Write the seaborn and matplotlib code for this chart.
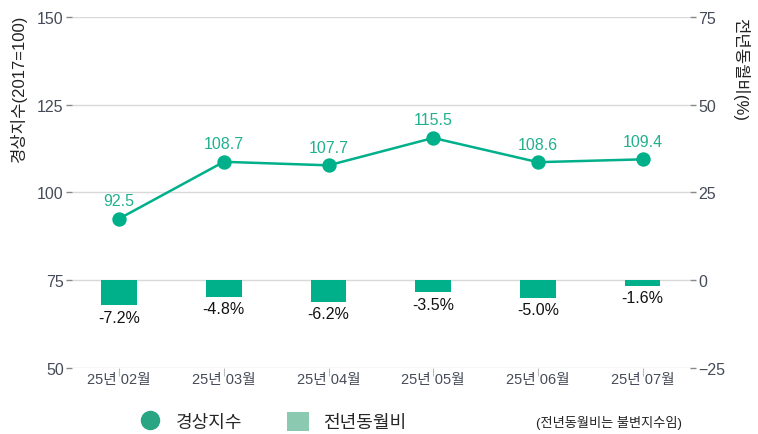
import matplotlib
matplotlib.use("Agg")
import matplotlib.pyplot as plt
import seaborn as sns
import pandas as pd
from matplotlib.lines import Line2D
from matplotlib.patches import Patch

# data
months = ["25년 02월", "25년 03월", "25년 04월", "25년 05월", "25년 06월", "25년 07월"]
index_vals = [92.5, 108.7, 107.7, 115.5, 108.6, 109.4]
yoy_vals = [-7.2, -4.8, -6.2, -3.5, -5.0, -1.6]

left_ticks = [50, 75, 100, 125, 150]
right_ticks = [-25, 0, 25, 50, 75]

GREEN = "#00B08B"
TICK_COLOR = "#454b58"
FONTS = ["Liberation Sans", "Noto Sans CJK KR", "DejaVu Sans"]

sns.set_theme(style="white")
plt.rcParams["font.family"] = FONTS

df = pd.DataFrame({"month": months, "index": index_vals, "yoy": yoy_vals})

fig = plt.figure(figsize=(7.58, 4.35), dpi=100)
ax = fig.add_axes([0.095, 0.152, 0.815, 0.807])
ax2 = ax.twinx()

# bars on the right axis
sns.barplot(data=df, x="month", y="yoy", ax=ax2, color=GREEN, width=0.34,
            saturation=1, edgecolor="none")
for i, v in enumerate(yoy_vals):
    ax2.text(i, v - 1.2, f"{v:.1f}%", ha="center", va="top", fontsize=11.5, color="#111111")

# line on the left axis
sns.pointplot(data=df, x="month", y="index", ax=ax, color=GREEN, markers="o",
              markersize=9, linewidth=1.8)
for i, v in enumerate(index_vals):
    ax.text(i, v + 3.0, f"{v:.1f}", ha="center", va="bottom", fontsize=11.5, color="#22B08E")

ax.set_ylim(50, 150)
ax2.set_ylim(-25, 75)
ax.set_xlim(-0.45, 5.45)
ax.set_yticks(left_ticks)
ax2.set_yticks(right_ticks)
ax.yaxis.grid(True, color="#d9d9d9", linewidth=1)
ax.set_axisbelow(True)

for a in (ax, ax2):
    for s in a.spines.values():
        s.set_visible(False)
    a.tick_params(axis="y", length=4, width=1, color="#888888", labelsize=11.5,
                  labelcolor=TICK_COLOR, pad=2)

ax.tick_params(axis="x", bottom=True, length=6, width=0.8, color="#bbbbbb", direction="out",
               labelsize=10.5, labelcolor=TICK_COLOR, pad=-3)
ax2.tick_params(axis="x", bottom=False, length=0)

ax.set_xlabel("")
ax2.set_xlabel("")
ax.set_ylabel("")
ax2.set_ylabel("")
fig.text(18 / 758, 1 - 15 / 435, "경상지수(2017=100)", rotation=90, ha="center", va="top",
         fontsize=12, color="#222222")
fig.text(741 / 758, 1 - 18 / 435, "전년동월비(%)", rotation=270, ha="center", va="top",
         fontsize=12, color="#222222")

handles = [
    Line2D([0], [0], marker="o", color="none", markerfacecolor="#2AA584",
           markeredgecolor="#2AA584", markersize=13),
    Patch(facecolor="#8BC9B0", edgecolor="none"),
]
fig.legend(handles, ["경상지수", "전년동월비"], loc="center", bbox_to_anchor=(0.36, 0.028),
           ncol=2, frameon=False, fontsize=13, handlelength=1.2, handleheight=1.2,
           columnspacing=2.5, handletextpad=0.8)
fig.text(0.90, 0.028, "(전년동월비는 불변지수임)", ha="right", va="center",
         fontsize=9.5, color="#222222")

fig.savefig("out.png", dpi=100)
